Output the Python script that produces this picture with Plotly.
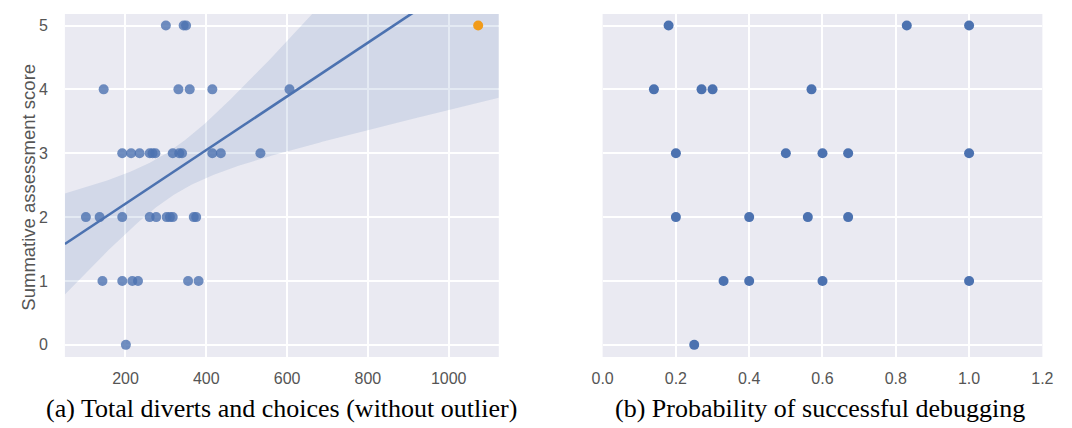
import numpy as np
import plotly.graph_objects as go

# ---------------- data ----------------
# Panel (a): total diverts and choices vs. summative assessment score
diverts = [300, 344, 350,
           146, 331, 359, 415, 606,
           192, 214, 235, 260, 267, 274, 317, 333, 340, 415, 436, 534,
           102, 136, 192, 260, 276, 302, 310, 317, 369, 375,
           143, 192, 217, 231, 355, 381,
           201]
scores_a = [5, 5, 5,
            4, 4, 4, 4, 4,
            3, 3, 3, 3, 3, 3, 3, 3, 3, 3, 3, 3,
            2, 2, 2, 2, 2, 2, 2, 2, 2, 2,
            1, 1, 1, 1, 1, 1,
            0]
outlier_x = [1073]
outlier_y = [5]

# Panel (b): probability of successful debugging vs. score
prob = [0.18, 0.83, 1.0,
        0.14, 0.27, 0.30, 0.57,
        0.20, 0.50, 0.60, 0.67, 1.0,
        0.20, 0.40, 0.56, 0.67,
        0.33, 0.40, 0.60, 1.0,
        0.25]
scores_b = [5, 5, 5,
            4, 4, 4, 4,
            3, 3, 3, 3, 3,
            2, 2, 2, 2,
            1, 1, 1, 1,
            0]

xa_ticks = [200, 400, 600, 800, 1000]
xb_ticks = [0.0, 0.2, 0.4, 0.6, 0.8, 1.0, 1.2]
y_ticks = [0, 1, 2, 3, 4, 5]

XA_RANGE = [50, 1124]
XB_RANGE = [0, 1.2]
Y_RANGE = [-0.19, 5.18]

# ---------------- regression (fit without the outlier) ----------------
x = np.array(diverts, dtype=float)
y = np.array(scores_a, dtype=float)
X = np.column_stack([np.ones_like(x), x])
XtX_inv = np.linalg.inv(X.T @ X)
beta = XtX_inv @ X.T @ y
resid = y - X @ beta
meat = X.T @ (X * (resid ** 2)[:, None])
cov = XtX_inv @ meat @ XtX_inv
xg = np.linspace(XA_RANGE[0], XA_RANGE[1], 200)
Xg = np.column_stack([np.ones_like(xg), xg])
pred = Xg @ beta
se = np.sqrt(np.sum((Xg @ cov) * Xg, axis=1))
upper = pred + 1.96 * se
lower = pred - 1.96 * se

BLUE = "#4C72B0"
ORANGE = "#F19B1A"
BG = "#EAEAF2"
TICKCOL = "#555555"

fig = go.Figure()

fig.add_trace(go.Scatter(x=diverts, y=scores_a, mode="markers",
                         marker=dict(size=10, color=BLUE, opacity=0.8),
                         xaxis="x", yaxis="y", showlegend=False))
fig.add_trace(go.Scatter(x=xg, y=upper, mode="lines", line=dict(width=0),
                         xaxis="x", yaxis="y", showlegend=False, hoverinfo="skip"))
fig.add_trace(go.Scatter(x=xg, y=lower, mode="lines", line=dict(width=0),
                         fill="tonexty", fillcolor="rgba(76,114,176,0.15)",
                         xaxis="x", yaxis="y", showlegend=False, hoverinfo="skip"))
fig.add_trace(go.Scatter(x=xg, y=pred, mode="lines", line=dict(width=2.6, color=BLUE),
                         xaxis="x", yaxis="y", showlegend=False))
fig.add_trace(go.Scatter(x=outlier_x, y=outlier_y, mode="markers",
                         marker=dict(size=10, color=ORANGE),
                         xaxis="x", yaxis="y", showlegend=False))

fig.add_trace(go.Scatter(x=prob, y=scores_b, mode="markers",
                         marker=dict(size=10, color=BLUE),
                         xaxis="x2", yaxis="y2", showlegend=False))

W, H = 1072, 428
tickfont = dict(family="Liberation Sans, Arial, sans-serif", size=16, color=TICKCOL)
common_x = dict(showgrid=True, gridcolor="white", gridwidth=1.5, zeroline=False,
                showline=False, ticks="", tickfont=tickfont, ticklabelstandoff=10,
                fixedrange=True)
common_y = dict(showgrid=True, gridcolor="white", gridwidth=1.5, zeroline=False,
                showline=False, ticks="", tickfont=tickfont, tickvals=y_ticks,
                range=Y_RANGE, ticklabelstandoff=16, fixedrange=True,
                domain=[(H - 357) / H, (H - 14) / H])

fig.update_layout(
    width=W, height=H,
    margin=dict(l=0, r=0, t=0, b=0),
    paper_bgcolor="white",
    plot_bgcolor=BG,
    xaxis=dict(domain=[55 / W, 498 / W], range=XA_RANGE, tickvals=xa_ticks,
               anchor="y", **common_x),
    yaxis=dict(anchor="x", **common_y),
    xaxis2=dict(domain=[604 / W, 1053 / W], range=XB_RANGE, tickvals=xb_ticks,
                tickformat=".1f", anchor="y2", **common_x),
    yaxis2=dict(anchor="x2", showticklabels=False, **{k: v for k, v in common_y.items()}),
    annotations=[
        dict(text="Summative assessment score", textangle=-90,
             x=17 / W, y=(H - 187) / H, xref="paper", yref="paper",
             xanchor="center", yanchor="middle", showarrow=False,
             font=dict(family="Liberation Sans, Arial, sans-serif", size=18.5, color=TICKCOL)),
        dict(text="(a) Total diverts and choices (without outlier)",
             x=276.5 / W, y=(H - 408) / H, xref="paper", yref="paper",
             xanchor="center", yanchor="middle", showarrow=False,
             font=dict(family="Liberation Serif, Times New Roman, serif", size=26, color="black")),
        dict(text="(b) Probability of successful debugging",
             x=826 / W, y=(H - 408) / H, xref="paper", yref="paper",
             xanchor="center", yanchor="middle", showarrow=False,
             font=dict(family="Liberation Serif, Times New Roman, serif", size=26, color="black")),
    ],
)

fig.write_html("out.html")
